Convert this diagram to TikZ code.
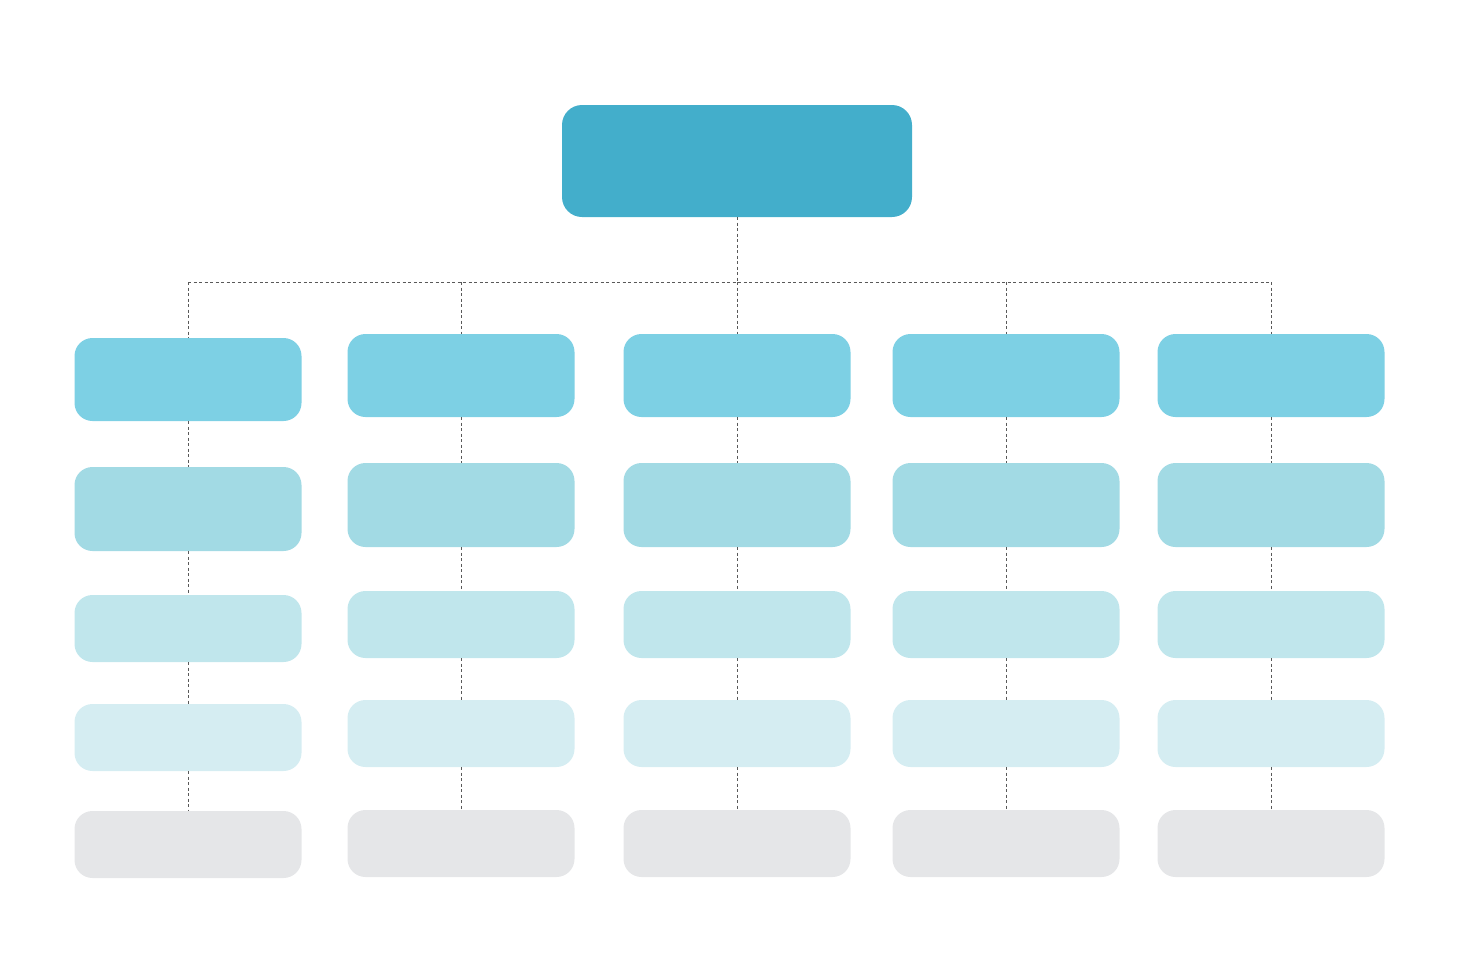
\documentclass[tikz,border=0pt]{standalone}
\begin{document}
\begin{tikzpicture}[x=1pt,y=-1pt,
  bx/.style={rounded corners=18pt,inner sep=0pt,minimum width=227pt,minimum height=#1},
  ln/.style={draw=black!65,dashed,line width=0.8pt,dash pattern=on 3pt off 2.5pt}]
\definecolor{c0}{HTML}{43AECB}
\definecolor{c1}{HTML}{7DD0E4}
\definecolor{c2}{HTML}{A2DAE4}
\definecolor{c3}{HTML}{C0E6EC}
\definecolor{c4}{HTML}{D5EDF2}
\definecolor{c5}{HTML}{E5E6E8}
\useasboundingbox (0,0) rectangle (1470,980);
\node[bx=112pt,minimum width=350pt,fill=c0,rounded corners=20pt] (top) at (737,161) {};
\coordinate (h) at (737,282);
\draw[ln] (top.south) -- (h);
\foreach \i/\cx/\d in {1/188/4,2/461/0,3/737/0,4/1006/0,5/1271/0}{
  \node[bx=83pt,fill=c1] (b\i1) at (\cx,375.5+\d) {};
  \node[bx=84pt,fill=c2] (b\i2) at (\cx,505+\d) {};
  \node[bx=67pt,fill=c3] (b\i3) at (\cx,624.5+\d) {};
  \node[bx=67pt,fill=c4] (b\i4) at (\cx,733.5+\d) {};
  \node[bx=67pt,fill=c5] (b\i5) at (\cx,843.5+\d/4) {};
  \coordinate (t\i) at (\cx,282);
  \draw[ln] (t\i) -- (b\i1.north);
  \draw[ln] (b\i1.south) -- (b\i2.north);
  \draw[ln] (b\i2.south) -- (b\i3.north);
  \draw[ln] (b\i3.south) -- (b\i4.north);
  \draw[ln] (b\i4.south) -- (b\i5.north);
}
\draw[ln] (t1) -- (t5);
\end{tikzpicture}
\end{document}
